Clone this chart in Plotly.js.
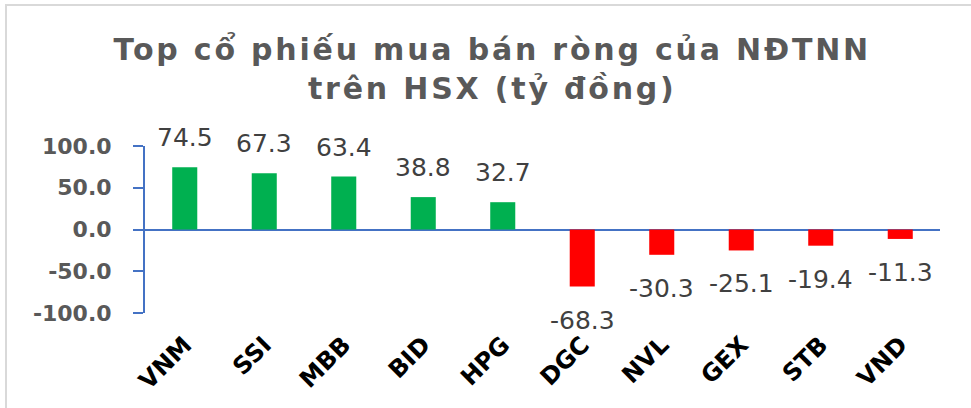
<!DOCTYPE html>
<html>
<head>
<meta charset="utf-8">
<script src="https://cdn.plot.ly/plotly-3.0.1.min.js"></script>
<style>
html, body { margin: 0; padding: 0; background: #fff; }
#wrap { position: relative; width: 971px; height: 408px; }
#chart { position: absolute; left: 0; top: 0; width: 971px; height: 408px; }
.bt { position: absolute; left: 5px; top: 4px; width: 966px; height: 2px; background: #d9d9d9; }
.bl { position: absolute; left: 5px; top: 4px; width: 2px; height: 404px; background: #d9d9d9; }
#chart .gtitle { letter-spacing: 2.8px; }
</style>
</head>
<body>
<div id="wrap">
  <div id="chart"></div>
  <div class="bt"></div>
  <div class="bl"></div>
</div>
<script>
const categories = ['VNM', 'SSI', 'MBB', 'BID', 'HPG', 'DGC', 'NVL', 'GEX', 'STB', 'VND'];
const values = [74.5, 67.3, 63.4, 38.8, 32.7, -68.3, -30.3, -25.1, -19.4, -11.3];
const yTickValues = [-100, -50, 0, 50, 100];
const titleText = 'Top cổ phiếu mua bán ròng của NĐTNN<br>trên HSX (tỷ đồng)';

const barColors = values.map(v => v >= 0 ? '#00B050' : '#FF0000');

const trace = {
  type: 'bar',
  x: categories,
  y: values,
  marker: { color: barColors },
  hoverinfo: 'x+y'
};

const annotations = categories.map((c, i) => ({
  x: c,
  y: values[i],
  xref: 'x',
  yref: 'y',
  text: values[i].toFixed(1),
  showarrow: false,
  yanchor: values[i] >= 0 ? 'bottom' : 'top',
  yshift: values[i] >= 0 ? 13 : -17,
  font: { family: 'DejaVu Sans', size: 25, color: '#404040' }
}));

const layout = {
  width: 971,
  height: 408,
  margin: { l: 145, r: 31, t: 146, b: 95 },
  paper_bgcolor: '#ffffff',
  plot_bgcolor: '#ffffff',
  showlegend: false,
  bargap: 0.685,
  title: {
    text: titleText,
    x: 0.507,
    xref: 'container',
    xanchor: 'center',
    y: 1 - 60 / 408,
    yref: 'container',
    yanchor: 'top',
    font: { family: 'DejaVu Sans', size: 30, color: '#595959', weight: 'bold' }
  },
  xaxis: {
    type: 'category',
    showline: false,
    showgrid: false,
    zeroline: false,
    ticks: '',
    tickangle: -45,
    ticklabelstandoff: 12,
    tickfont: { family: 'DejaVu Sans', size: 24, color: '#000000', weight: 'bold' }
  },
  yaxis: {
    range: [-100, 100],
    tickvals: yTickValues,
    ticktext: yTickValues.map(v => v.toFixed(1)),
    showgrid: false,
    showline: true,
    linecolor: '#4472C4',
    linewidth: 2,
    ticks: 'outside',
    ticklen: 10,
    tickwidth: 2,
    tickcolor: '#4472C4',
    zeroline: true,
    zerolinecolor: '#4472C4',
    zerolinewidth: 2,
    ticklabelstandoff: 17,
    tickfont: { family: 'DejaVu Sans', size: 22, color: '#595959', weight: 'bold' }
  },
  annotations: annotations
};

Plotly.newPlot('chart', [trace], layout, { displayModeBar: false, staticPlot: true });
</script>
</body>
</html>
